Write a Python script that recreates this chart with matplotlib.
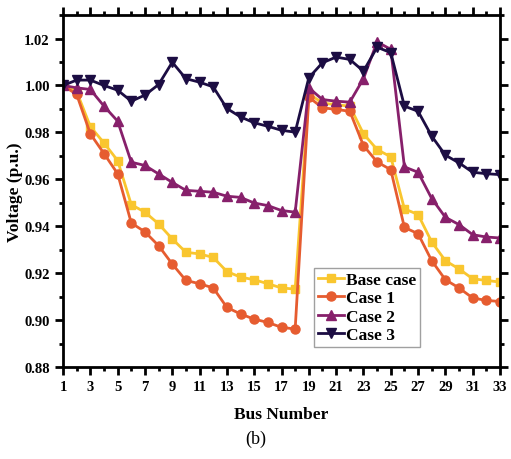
import numpy as np
import matplotlib
matplotlib.use('Agg')
import matplotlib.pyplot as plt
from matplotlib.ticker import MultipleLocator

plt.rcParams['font.family'] = ['Liberation Serif', 'DejaVu Serif']

bus = list(range(1, 34))

base_case = [1.000, 0.9974, 0.9825, 0.9755, 0.968, 0.9492, 0.946, 0.941, 0.9346, 0.9289,
             0.9282, 0.9267, 0.9207, 0.9183, 0.9172, 0.9155, 0.9137, 0.9132, 0.9965, 0.9925,
             0.9918, 0.9912, 0.9794, 0.9727, 0.9696, 0.9474, 0.945, 0.9333, 0.9253, 0.9218,
             0.9176, 0.9169, 0.9162]
case1 = [1.000, 0.9962, 0.9794, 0.971, 0.9624, 0.9414, 0.9376, 0.9317, 0.9239, 0.9169,
         0.9155, 0.9137, 0.9054, 0.9026, 0.9004, 0.899, 0.8969, 0.8962, 0.995, 0.9905,
         0.9898, 0.989, 0.9744, 0.9674, 0.9641, 0.9395, 0.9368, 0.9253, 0.9172, 0.9137,
         0.9094, 0.9084, 0.9079]
case2 = [1.000, 0.999, 0.9983, 0.9912, 0.9848, 0.9673, 0.9659, 0.9623, 0.9587, 0.9553,
         0.9549, 0.9545, 0.9528, 0.9523, 0.9499, 0.9488, 0.9467, 0.946, 0.999, 0.994,
         0.9933, 0.9929, 1.0029, 1.0186, 1.0154, 0.9653, 0.963, 0.9518, 0.9438, 0.9407,
         0.9364, 0.9354, 0.935]
case3 = [1.000, 1.0023, 1.0023, 1.000, 0.998, 0.9933, 0.9959, 1.0004, 1.0099, 1.0029,
         1.0014, 0.9994, 0.9902, 0.9866, 0.9841, 0.9826, 0.9809, 0.9801, 1.0033, 1.0097,
         1.0121, 1.0111, 1.0061, 1.0163, 1.014, 0.9912, 0.989, 0.9784, 0.9703, 0.967,
         0.963, 0.9624, 0.962]

fig = plt.figure(figsize=(5.11, 4.6), dpi=100)
ax = fig.add_axes([0.1233, 0.2, 0.8552, 0.765])

ax.plot(bus, base_case, color='#F9C62F', marker='s', ms=6, lw=2, label='Base case')
ax.plot(bus, case1, color='#E65C30', marker='o', ms=6.5, lw=2, label='Case 1')
ax.plot(bus, case2, color='#87206B', marker='^', ms=7, lw=2, label='Case 2')
ax.plot(bus, case3, color='#1C0D43', marker='v', ms=7, lw=2, label='Case 3')

ax.set_xlim(1, 33)
ax.set_ylim(0.88, 1.03)
ax.set_xticks(range(1, 34, 2))
ax.xaxis.set_minor_locator(MultipleLocator(1))
ax.set_yticks(np.arange(0.88, 1.021, 0.02))
ax.yaxis.set_minor_locator(MultipleLocator(0.01))
ax.yaxis.set_major_formatter(matplotlib.ticker.FormatStrFormatter('%.2f'))

for s in ax.spines.values():
    s.set_linewidth(2)
ax.tick_params(which='both', direction='out', top=True, right=True, width=2,
               labeltop=False, labelright=False)
ax.tick_params(which='major', length=6, labelsize=10.5)
ax.tick_params(which='minor', length=3)
for lab in ax.get_xticklabels() + ax.get_yticklabels():
    lab.set_fontweight('bold')

ax.set_xlabel('Bus Number', fontsize=12.5, fontweight='bold', labelpad=9)
ax.set_ylabel('Voltage (p.u.)', fontsize=12.5, fontweight='bold', labelpad=1)

leg = ax.legend(loc='lower right', bbox_to_anchor=(0.817, 0.057),
                prop={'weight': 'bold', 'size': 12.5}, frameon=True, fancybox=False,
                handlelength=1.5, handletextpad=0.15, borderpad=0.2, labelspacing=0.14,
                borderaxespad=0)
leg.get_frame().set_edgecolor('#888888')
leg.get_frame().set_linewidth(1)

fig.text(0.5, 0.035, '(b)', ha='center', fontsize=13)

fig.savefig('out.png', dpi=100)
